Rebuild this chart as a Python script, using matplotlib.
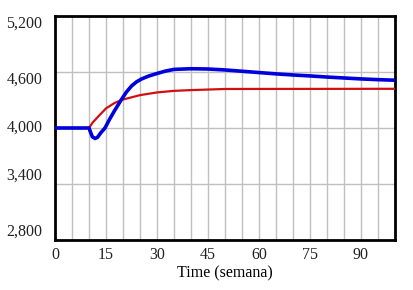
import matplotlib.pyplot as plt
from matplotlib.ticker import FuncFormatter

plt.rcParams["font.family"] = ["Liberation Serif", "DejaVu Serif"]

# blue run (semana vs value)
t_blue = [0, 10, 10.5, 11, 11.8, 12.5, 13.5, 14.7, 16, 17.5, 19.5, 21, 22.5, 24,
          25.5, 27.5, 30, 32.5, 35, 40, 45, 50, 55, 60, 65, 70, 75, 80, 85, 90, 95, 100]
v_blue = [4000, 4000, 3950, 3905, 3888, 3900, 3950, 4000, 4090, 4185, 4303, 4385,
          4450, 4495, 4526, 4556, 4584, 4610, 4628, 4635, 4632, 4622, 4608, 4594,
          4580, 4568, 4558, 4546, 4536, 4526, 4518, 4512]

# red run
t_red = [0, 10, 11, 12.5, 15, 17.5, 20, 25, 30, 35, 40, 45, 50, 100]
v_red = [4000, 4000, 4055, 4115, 4210, 4268, 4305, 4352, 4381, 4398, 4406, 4412,
         4418, 4420]

x_ticks = [0, 15, 30, 45, 60, 75, 90]
y_ticks = [2800, 3400, 4000, 4600, 5200]

fig = plt.figure(figsize=(4.14, 2.90), dpi=100)
ax = fig.add_axes([55 / 414, 1 - 240 / 290, 340 / 414, 224 / 290])

ax.plot(t_red, v_red, color="#d01010", lw=1.6, zorder=3)
ax.plot(t_blue, v_blue, color="#0000dd", lw=2.6, zorder=4)

ax.set_xlim(0, 100)
ax.set_ylim(2800, 5200)

# grid every 5 weeks, labels every 15
ax.set_xticks(range(0, 101, 5), minor=True)
ax.set_xticks(x_ticks)
ax.set_yticks(y_ticks)
ax.yaxis.set_major_formatter(FuncFormatter(lambda v, p: f"{int(v):,}"))
ax.grid(True, which="both", axis="x", color="#c0c0c0", lw=1)
ax.grid(True, which="major", axis="y", color="#c0c0c0", lw=1)
ax.set_axisbelow(True)
ax.tick_params(which="both", length=0, labelsize=11.5, colors="#222222")
ax.tick_params(axis="y", pad=9)
ax.tick_params(axis="x", pad=5)

# vensim-style label placement
va = ["bottom", "bottom", "center", "top", "top"]
for lbl, a in zip(ax.get_yticklabels(), va):
    lbl.set_verticalalignment(a)

for s in ax.spines.values():
    s.set_linewidth(2)
    s.set_color("black")

ax.set_xlabel("Time (semana)", fontsize=11.5, labelpad=2)

plt.savefig("out.png", dpi=100)
